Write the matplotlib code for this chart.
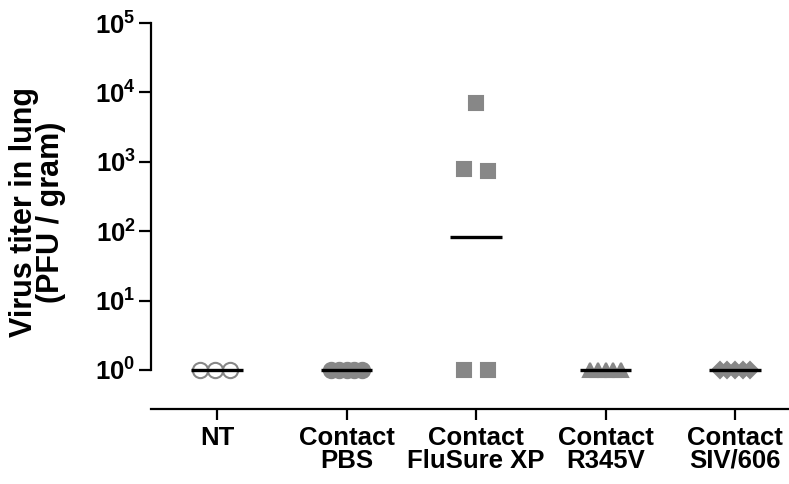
import numpy as np
import matplotlib
matplotlib.use("Agg")
import matplotlib.pyplot as plt
from matplotlib.ticker import FixedLocator, FixedFormatter

plt.rcParams['font.family'] = ['Liberation Sans', 'DejaVu Sans']
plt.rcParams['font.weight'] = 'bold'
plt.rcParams['mathtext.fontset'] = 'custom'
plt.rcParams['mathtext.rm'] = 'Liberation Sans:bold'
plt.rcParams['mathtext.bf'] = 'Liberation Sans:bold'
plt.rcParams['mathtext.it'] = 'Liberation Sans:bold'

# ---- data ----
categories = ["NT", "Contact\nPBS", "Contact\nFluSure XP", "Contact\nR345V", "Contact\nSIV/606"]
nt_values = [1, 1, 1]
pbs_values = [1, 1, 1, 1, 1]
flusure_values = [7000, 790, 740, 1, 1]
r345v_values = [1, 1, 1, 1, 1]
siv606_values = [1, 1, 1, 1, 1]
ytick_values = [1, 10, 100, 1000, 10000, 100000]
ytick_labels = [r"$10^{0}$", r"$10^{1}$", r"$10^{2}$", r"$10^{3}$", r"$10^{4}$", r"$10^{5}$"]
ylabel = "Virus titer in lung\n(PFU / gram)"

# ---- layout / style ----
gray = "#878787"
groups = [
    dict(vals=nt_values, offs=[-0.13, -0.015, 0.1], marker="o", face="white", size=11),
    dict(vals=pbs_values, offs=[-0.116, -0.058, 0.0, 0.058, 0.116], marker="o", face=gray, size=11),
    dict(vals=flusure_values, offs=[0.0, -0.09, 0.09, -0.09, 0.09], marker="s", face=gray, size=10),
    dict(vals=r345v_values, offs=[-0.116, -0.058, 0.0, 0.058, 0.116], marker="^", face=gray, size=10),
    dict(vals=siv606_values, offs=[-0.116, -0.058, 0.0, 0.058, 0.116], marker="D", face=gray, size=8),
]

W, H = 789, 484
fig = plt.figure(figsize=(W / 100, H / 100), dpi=100)
ax = fig.add_axes([151 / W, 1 - 409 / H, 638 / W, (409 - 23) / H])
ax.set_yscale("log")

for i, g in enumerate(groups):
    xs = [i + o for o in g["offs"]]
    ax.plot(xs, g["vals"], linestyle="none", marker=g["marker"], markersize=g["size"],
            markerfacecolor=g["face"], markeredgecolor=gray, markeredgewidth=1.5,
            clip_on=False, zorder=3)
    gm = np.exp(np.mean(np.log(g["vals"])))
    ax.plot([i - 0.2, i + 0.2], [gm, gm], color="black", linewidth=2.4, zorder=4,
            solid_capstyle="butt", clip_on=False)

ax.set_ylim(10 ** -0.562, 1e5)
ax.set_xlim(-0.5097, 4.417)

ax.yaxis.set_major_locator(FixedLocator(ytick_values))
ax.yaxis.set_major_formatter(FixedFormatter(ytick_labels))
ax.yaxis.set_minor_locator(FixedLocator([]))
ax.set_xticks(range(len(categories)))
ax.set_xticklabels(categories, fontsize=18.5, fontweight="bold", linespacing=0.95)

for s in ["top", "right"]:
    ax.spines[s].set_visible(False)
ax.spines["left"].set_bounds(1, 1e5)
ax.spines["left"].set_linewidth(1.6)
ax.spines["bottom"].set_linewidth(1.6)

ax.tick_params(axis="y", which="major", length=9, width=1.6, pad=2, labelsize=18.5)
ax.tick_params(axis="x", which="major", length=8, width=1.6, pad=4)

fig.text(37.5 / W, 1 - 212 / H, ylabel, rotation=90, ha="center", va="center",
         multialignment="center", fontsize=22, fontweight="bold", linespacing=0.9)

fig.savefig("out.png", dpi=100)
